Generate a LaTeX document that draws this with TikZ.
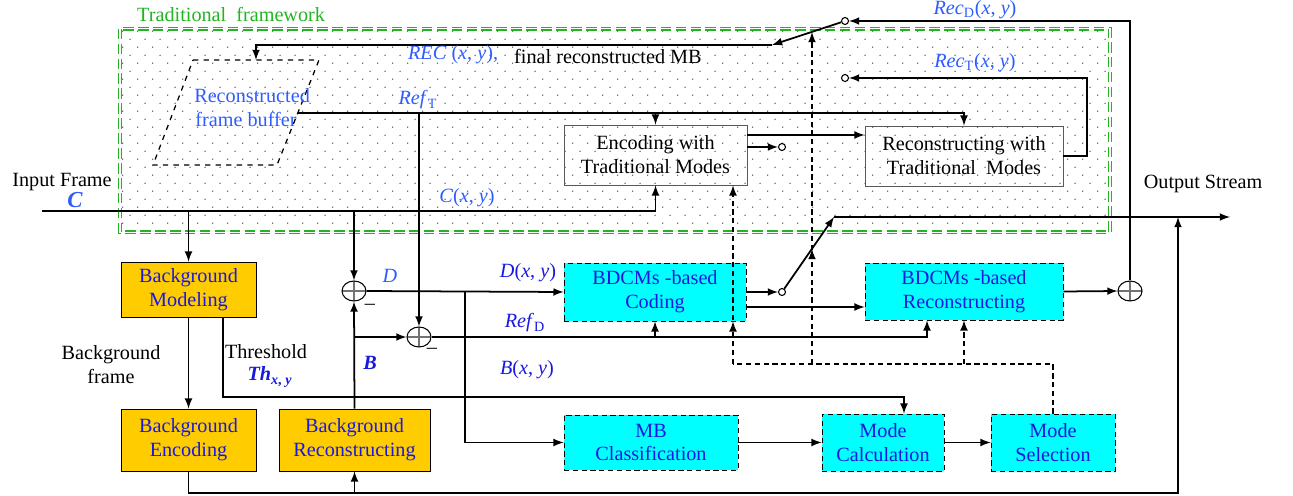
\documentclass[tikz,border=0pt]{standalone}
\usepackage{fontspec}
\setmainfont{Liberation Serif}
\usepackage{xcolor}
\usetikzlibrary{calc,shapes,arrows,positioning,patterns.meta}
\definecolor{bgorange}{HTML}{FFCC00}
\definecolor{bdcyan}{HTML}{00FFFF}
\definecolor{boxblue}{HTML}{1818E0}
\definecolor{lblblue}{HTML}{2F5CFF}
\definecolor{fwgreen}{HTML}{22B422}
\tikzdeclarepattern{
  name=stagdots,
  type=uncolored,
  bottom left={(0pt,0pt)},
  top right={(8.5pt,9pt)},
  tile size={(8.5pt,9pt)},
  code={
    \fill (2.1pt,2.2pt) circle (0.45pt);
    \fill (6.35pt,6.7pt) circle (0.45pt);
  }
}

\begin{document}
\begin{tikzpicture}[x=0.02cm,y=-0.02cm,>=latex,font=\rmfamily\fontsize{11.5}{13.6}\selectfont]
  \tikzstyle{wire}=[line width=1pt]
  \tikzstyle{ctrl}=[line width=1pt, dash pattern=on 3pt off 2pt]
  \tikzstyle{bgbox}=[draw, fill=bgorange, text=boxblue, align=center, inner sep=1pt]
  \tikzstyle{bdbox}=[draw, densely dashed, line width=0.4pt, fill=bdcyan, text=boxblue, align=center, inner sep=1pt]
  \tikzstyle{trbox}=[draw=black!65, align=center, minimum height=1.2cm, inner sep=1pt]
  \tikzstyle{adder}=[draw, ellipse, minimum width=0.48cm, minimum height=0.4cm, inner sep=0pt, line width=0.6pt,
    path picture={\draw[black!55] (path picture bounding box.north) -- (path picture bounding box.south)
      (path picture bounding box.west) -- (path picture bounding box.east);}]
  \tikzstyle{contact}=[draw, circle, fill=white, minimum size=0.14cm, inner sep=0pt, line width=0.6pt]
  \tikzstyle{lbl}=[text=lblblue, inner sep=1pt]

  \useasboundingbox (0,0) rectangle (1293,496);

  \node[pattern=stagdots, pattern color=black!60, minimum width=19.8cm, minimum height=4.06cm, inner sep=0pt] (trad) at (615,130.5) {};
  \draw[fwgreen, line width=2.2pt, dash pattern=on 6pt off 2.5pt] (trad.north west) rectangle (trad.south east);
  \draw[white, line width=0.9pt, dash pattern=on 6pt off 2.5pt] (trad.north west) rectangle (trad.south east);
  \node[text=fwgreen, anchor=west] (tradlbl) at (131,14) {Traditional\ \ framework};

  % reconstructed frame buffer
  \coordinate (rfbtop) at (256,60);
  \coordinate (rfbr) at (298,113);
  \draw[dashed, line width=0.7pt] (193,60) -- (319,60) -- (277,165) -- (153,165) -- cycle;
  \node[text=lblblue, align=center, inner sep=1pt] (rfb) at (246,108) {\hspace*{0.6em}Reconstructed\\frame buffer};

  \node[bgbox, minimum width=2.7cm, minimum height=1.1cm] (bgmod) at (188.5,289.5) {Background\\Modeling};
  \node[bgbox, minimum width=2.7cm, minimum height=1.24cm] (bgenc) at (188.5,440) {Background\\Encoding};
  \node[bgbox, minimum width=3.02cm, minimum height=1.24cm] (bgrec) at (354.5,440) {Background\\Reconstructing};
  \node[trbox, minimum width=3.66cm] (enctrad) at (655.5,155) {Encoding with\\Traditional Modes};
  \node[trbox, minimum width=3.96cm] (rectrad) at (964,156) {Reconstructing with\\Traditional\ \ Modes};
  \node[bdbox, minimum width=3.64cm, minimum height=1.16cm] (bdcode) at (655,292) {BDCMs -based\\Coding};
  \node[bdbox, minimum width=3.96cm, minimum height=1.14cm] (bdrec) at (964,291.5) {BDCMs -based\\Reconstructing};
  \node[bdbox, minimum width=3.48cm, minimum height=1.1cm] (mbcls) at (651,442.5) {MB\\Classification};
  \node[bdbox, minimum width=2.44cm, minimum height=1.14cm] (modecalc) at (883,442.5) {Mode\\Calculation};
  \node[bdbox, minimum width=2.48cm, minimum height=1.14cm] (modesel) at (1053,442.5) {Mode\\Selection};

  \node[adder] (add1) at (354,291) {};
  \node[adder] (add2) at (419,337) {};
  \node[adder] (add3) at (1130,291) {};

  \node[contact] (ct1) at (845,21) {};
  \node[contact] (ct2) at (845,78) {};
  \node[contact] (ct3) at (782,147) {};
  \node[contact] (ct4) at (782,292) {};

  \coordinate (pv1) at (772,45);
  \coordinate (pv2) at (834,217);
  \coordinate (cin) at (42,211);
  \coordinate (out) at (1230,217);
  \coordinate (outj) at (1178,217);
  \coordinate (bot) at (1178,493);
  \coordinate (thr) at (904,397);
  \coordinate (dbr) at (465,291);
  \coordinate (ctl) at (733,364);
  \coordinate (sel) at (812,364);

  % main signal paths
  \draw[wire,->] (cin) -| (enctrad.south);
  \draw[wire,->] (cin -| bgmod.north) -- (bgmod.north);
  \draw[wire,->] (cin -| add1.north) -- (add1.north);
  \draw[wire,->] (bgmod.south) -- (bgenc.north);
  \draw[wire,->] ($(bgmod.south east)+(-33,0)$) |- (thr) -- (thr |- modecalc.north);
  \draw[wire,->] (bgenc.south) |- (bot) -- (outj);
  \draw[wire,->] (bgrec.south |- bot) -- (bgrec.south);
  \draw[wire,->] (bgrec.north) -- (add1.south);
  \draw[wire,->] (bgrec.north |- add2) -- (add2.west);
  \draw[wire,->] (add1.east) -- (bdcode.west);
  \draw[wire,->] (dbr) |- (mbcls.west);
  \draw[wire,->] (add2.east) -| ($(bdrec.south)+(-37,0)$);
  \draw[wire,->] (bdcode.south |- add2) -- (bdcode.south);
  \draw[wire,->] (mbcls.east) -- (modecalc.west);
  \draw[wire,->] (modecalc.east) -- (modesel.west);

  \draw[wire,->] (rfbr) -| (rectrad.north);
  \draw[wire,->] (rfbr -| enctrad.north) -- (enctrad.north);
  \draw[wire,->] (rfbr -| add2.north) -- (add2.north);
  \draw[wire,->] (enctrad.east |- 0,135) -- (rectrad.west |- 0,135);
  \draw[wire,->] (enctrad.east |- ct3) -- (ct3);
  \draw[wire,->] (bdcode.east) -- (ct4);
  \draw[wire,->] (ct4) -- (pv2);
  \draw[wire,->] (pv2) -- (out);
  \draw[wire,->] (bdcode.east |- 0,307) -- (bdrec.west |- 0,307);
  \draw[wire,->] (bdrec.east) -- (add3.west);
  \draw[wire,->] (add3.north) |- (ct1);
  \draw[wire,->] (rectrad.east) -- ++(24,0) |- (ct2);
  \draw[wire,->] (ct1) -- (pv1);
  \draw[wire,->] (pv1) -| (rfbtop);

  % mode control
  \draw[ctrl] (modesel.north) |- (ctl);
  \draw[ctrl,->] (bdrec.south |- ctl) -- (bdrec.south);
  \draw[ctrl,->] (ctl) -- (ctl |- bdcode.south);
  \draw[ctrl,->] (ctl) -- (ctl |- enctrad.south);
  \draw[ctrl,->] (sel) -- (sel |- 0,249);
  \draw[ctrl,->] (sel) -- (sel |- 0,32);

  \node[inner sep=1pt] (inlbl) at (62,182) {Input Frame};
  \node[text=lblblue, inner sep=0pt, font=\rmfamily\fontsize{13}{15}\selectfont\bfseries\itshape] (clbl) at (75,200) {C};
  \node[lbl, anchor=west] (reclbl) at (406,55) {\textit{REC} (\textit{x}, \textit{y}),};
  \node[anchor=west] (finlbl) at (508,56) {final reconstructed MB};
  \node[lbl] (reftlbl) at (418,100) {\textit{Ref}\textsubscript{T}};
  \node[lbl] (cxylbl) at (467,198) {\textit{C}(\textit{x}, \textit{y})};
  \node[lbl] (recdlbl) at (975,10) {\textit{Rec}\textsubscript{D}(\textit{x}, \textit{y})};
  \node[lbl] (rectlbl) at (975,63) {\textit{Rec}\textsubscript{T}(\textit{x}, \textit{y})};
  \node (outlbl) at (1203,184) {Output Stream};
  \node[lbl] (dlbl) at (390,276) {\textit{D}};
  \node[text=boxblue] (blbl) at (370,363) {\textbf{\textit{B}}};
  \node (minus1) at (370,307) {--};
  \node (minus2) at (432,351) {--};
  \node[text=boxblue] (dxylbl) at (528,273) {\textit{D}(\textit{x}, \textit{y})};
  \node[text=boxblue] (refdlbl) at (525,323) {\textit{Ref}\textsubscript{D}};
  \node[text=boxblue] (bxylbl) at (527,370) {\textit{B}(\textit{x}, \textit{y})};
  \node[align=center] (bgfrlbl) at (111,365) {Background\\frame};
  \node (thrlbl) at (266,352) {Threshold};
  \node[text=boxblue] (thlbl) at (270,377) {\textbf{\textit{Th}}\textsubscript{\textbf{\textit{x}, \textit{y}}}};
\end{tikzpicture}
\end{document}
